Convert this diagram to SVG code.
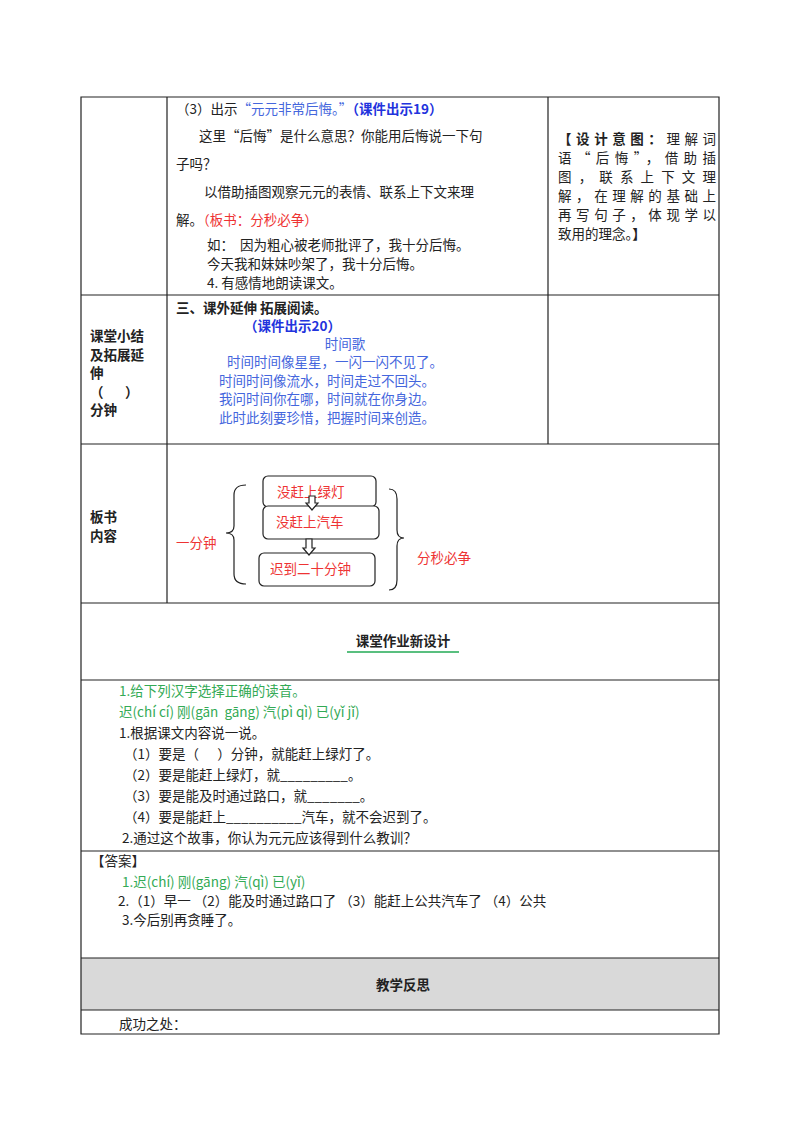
<svg xmlns="http://www.w3.org/2000/svg" width="800" height="1132" viewBox="0 0 800 1132">
<style>
text{font-family:"Noto Sans CJK SC","Liberation Serif",serif;font-size:13.5px;fill:#222;white-space:pre}
.b{font-weight:bold}
.bl{fill:#2233dd}
.lb{fill:#4466dd}
.r{fill:#ee3333}
.g{fill:#33aa55}
.ln{stroke:#222;stroke-width:1.2;fill:none}
.bx{stroke:#222;stroke-width:1.2;fill:#fff}
</style>
<rect x="0" y="0" width="800" height="1132" fill="#fff"/>
<g id="table">
<rect x="81" y="958" width="638" height="52" fill="#d9d9d9"/>
<path class="ln" d="M81 97H719V1034H81Z M81 295H719 M81 444H719 M81 603H719 M81 680H719 M81 851H719 M81 958H719 M81 1010H719 M167 97V603 M548 97V444"/>
</g>
<g id="row1">
<text x="176" y="114">（3）出示<tspan class="lb">“元元非常后悔。”</tspan><tspan class="bl b">（课件出示19）</tspan></text>
<text x="199" y="141">这里“后悔”是什么意思？你能用后悔说一下句</text>
<text x="176" y="169">子吗？</text>
<text x="204" y="197">以借助插图观察元元的表情、联系上下文来理</text>
<text x="176" y="225">解。<tspan class="r">（板书：分秒必争）</tspan></text>
<text x="207" y="250">如：  因为粗心被老师批评了，我十分后悔。</text>
<text x="207" y="269">今天我和妹妹吵架了，我十分后悔。</text>
<text x="207" y="288">4. 有感情地朗读课文。</text>
<text x="558" y="144" textLength="158" lengthAdjust="spacing"><tspan class="b">【设计意图：</tspan>理解词</text>
<text x="558" y="163" textLength="158" lengthAdjust="spacing">语“后悔”，借助插</text>
<text x="558" y="182" textLength="158" lengthAdjust="spacing">图，联系上下文理</text>
<text x="558" y="201" textLength="158" lengthAdjust="spacing">解，在理解的基础上</text>
<text x="558" y="220" textLength="158" lengthAdjust="spacing">再写句子，体现学以</text>
<text x="558" y="239">致用的理念。<tspan class="b">】</tspan></text>
</g>
<g id="row2">
<text class="b" x="90" y="341">课堂小结</text>
<text class="b" x="90" y="360">及拓展延</text>
<text class="b" x="90" y="378">伸</text>
<text class="b" x="90" y="397">（       ）</text>
<text class="b" x="90" y="415">分钟</text>
<text class="b" x="176" y="313">三、课外延伸 拓展阅读。</text>
<text class="b bl" x="244" y="331">（课件出示20）</text>
<text class="lb" x="345" y="349" text-anchor="middle">时间歌</text>
<text class="lb" x="227" y="367">时间时间像星星，一闪一闪不见了。</text>
<text class="lb" x="219" y="386">时间时间像流水，时间走过不回头。</text>
<text class="lb" x="219" y="404">我问时间你在哪，时间就在你身边。</text>
<text class="lb" x="219" y="423">此时此刻要珍惜，把握时间来创造。</text>
</g>
<g id="row3">
<text class="b" x="90" y="522">板书</text>
<text class="b" x="90" y="541">内容</text>
<text class="r" x="176" y="548">一分钟</text>
<text class="r" x="417" y="563">分秒必争</text>
<path class="ln" d="M246 485Q234 485 234 495V526Q234 533 226 533Q234 533 234 540V574Q234 584 246 584"/>
<path class="ln" d="M389 489Q397 489 397 499V530Q397 538 404 538Q397 538 397 546V580Q397 590 389 590"/>
</g>
<g id="box1"><rect class="bx" x="263" y="476" width="113" height="31" rx="5"/><text class="r" x="277" y="497">没赶上绿灯</text></g>
<g id="box2"><rect class="bx" x="263" y="506" width="116" height="33" rx="5"/><text class="r" x="276" y="527">没赶上汽车</text></g>
<g id="box3"><rect class="bx" x="259" y="553" width="116" height="33" rx="5"/><text class="r" x="270" y="574">迟到二十分钟</text></g>
<g id="connectors">
<path class="bx" d="M309 496V503H306L312 510L318 503H315V496Z"/>
<path class="bx" d="M306 539V548H303L309 555L315 548H312V539Z"/>
</g>
<g id="row4">
<text class="b" x="403" y="646" text-anchor="middle">课堂作业新设计</text>
<line x1="347" y1="652" x2="459" y2="652" stroke="#22aa55" stroke-width="1.5"/>
</g>
<g id="row5">
<text class="g" x="119" y="696">1.给下列汉字选择正确的读音。</text>
<text class="g" x="119" y="717">迟(chí cí) 刚(gān  gāng) 汽(pì qì) 已(yǐ jǐ)</text>
<text x="119" y="738">1.根据课文内容说一说。</text>
<text x="124" y="759">（1）要是（      ）分钟，就能赶上绿灯了。</text>
<text x="124" y="780">（2）要是能赶上绿灯，就_________。</text>
<text x="124" y="801">（3）要是能及时通过路口，就_______。</text>
<text x="124" y="822">（4）要是能赶上__________汽车，就不会迟到了。</text>
<text x="122" y="843">2.通过这个故事，你认为元元应该得到什么教训？</text>
</g>
<g id="row6">
<text x="91" y="866">【答案】</text>
<text class="g" x="122" y="887">1.迟(chí) 刚(gāng) 汽(qì) 已(yǐ)</text>
<text x="118" y="906">2.（1）早一 （2）能及时通过路口了 （3）能赶上公共汽车了 （4）公共</text>
<text x="122" y="925">3.今后别再贪睡了。</text>
</g>
<g id="row7">
<text class="b" x="403" y="990" text-anchor="middle">教学反思</text>
<text x="119" y="1029">成功之处：</text>
</g>
</svg>
